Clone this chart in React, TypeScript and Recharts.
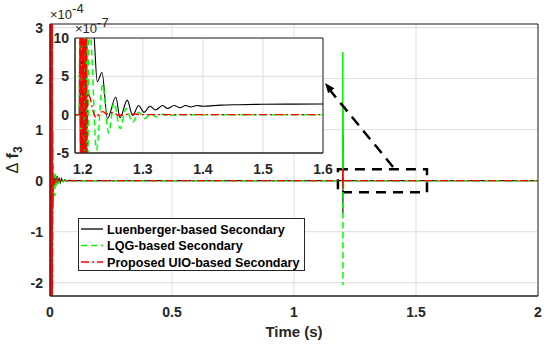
import React from 'react';
import {
  LineChart,
  Line,
  XAxis,
  YAxis,
  CartesianGrid,
  ReferenceArea,
  ReferenceLine,
  ReferenceDot,
  Legend,
  Label,
} from 'recharts';

const FONT = "'Liberation Sans', Arial, Helvetica, sans-serif";
const AXIS_COLOR = '#262626';
const GRID_COLOR = '#dedede';

// ---------- series names ----------
const seriesNames = ['Luenberger-based Secondary', 'LQG-based Secondary', 'Proposed UIO-based Secondary'];

// ---------- main axes (values ×10^-4) ----------
const mainTicksX = [0, 0.5, 1, 1.5, 2];
const mainTicksY = [-2, -1, 0, 1, 2, 3];
const mainDomainX = [0, 2];
const mainDomainY = [-2.26, 3.07];

const luenbergerMainT = [0, 0.001, 0.002, 0.003, 0.004, 0.005, 0.006, 0.007, 0.008, 0.009, 0.01, 0.013, 0.017, 0.021, 0.025, 0.029, 0.033, 0.037, 0.042, 0.047, 0.053, 0.06, 0.07, 0.08, 0.1, 1.1995, 1.2, 1.2004, 1.2008, 1.2012, 1.2016, 1.203, 2];
const luenbergerMainV = [0, 3.5, -2.5, 3.5, -2.5, 3.5, -2.5, 3.5, -2.5, 1.5, -0.8, 0.15, -0.12, 0.12, -0.08, 0.09, -0.06, 0.06, -0.04, 0.04, -0.02, 0.02, -0.01, 0.005, 0, 0, 1.44, -0.64, 0.9, -0.3, 0.3, 0, 0];

const lqgMainT = [0, 0.0015, 0.003, 0.0045, 0.006, 0.0075, 0.009, 0.011, 0.015, 0.019, 0.023, 0.027, 0.031, 0.036, 0.041, 0.05, 0.06, 0.08, 1.1995, 1.2, 1.2006, 1.2012, 1.202, 1.204, 2];
const lqgMainV = [0, 3.5, -2.5, 3.5, -2.5, 3.5, -2.5, 0.3, 0.18, -0.3, 0.12, -0.12, 0.07, -0.05, 0.03, -0.02, 0.01, 0, 0, 2.52, -2.05, 0.6, -0.2, 0, 0];

const uioMainT = [0, 0.0005, 0.001, 0.0015, 0.002, 0.0025, 0.003, 0.0035, 0.004, 0.0045, 0.005, 0.0055, 0.006, 0.0065, 0.007, 0.0075, 0.008, 0.0085, 0.009, 0.0095, 0.01, 0.011, 0.012, 0.014, 0.018, 0.022, 0.027, 0.032, 0.04, 0.05, 1.1995, 1.2, 1.2005, 1.201, 1.203, 2];
const uioMainV = [0, 3.5, -2.5, 3.5, -2.5, 3.5, -2.5, 3.5, -2.5, 3.5, -2.5, 3.5, -2.5, 3.5, -2.5, 3.5, -2.5, 3.5, -2.5, 3.5, -2.5, 1.0, -0.5, 0.1, -0.08, 0.06, -0.04, 0.03, -0.01, 0, 0, 0.25, -0.15, 0.05, 0, 0];

// ---------- inset axes (values ×10^-7) ----------
const insetTicksX = [1.2, 1.3, 1.4, 1.5, 1.6];
const insetTicksY = [-5, 0, 5, 10];
const insetDomainX = [1.187, 1.6];
const insetDomainY = [-5, 10];

const luenbergerInsetT = [1.187, 1.194, 1.195, 1.196, 1.197, 1.198, 1.199, 1.2, 1.201, 1.202, 1.203, 1.204, 1.205, 1.206, 1.207, 1.212, 1.219, 1.224, 1.232, 1.241, 1.255, 1.262, 1.274, 1.283, 1.293, 1.302, 1.312, 1.321, 1.333, 1.341, 1.352, 1.362, 1.371, 1.38, 1.39, 1.4, 1.43, 1.46, 1.5, 1.55, 1.6];
const luenbergerInsetV = [0, 0, 12, -7, 12, -7, 12, -7, 12, -7, 12, -7, 12, -7, 12, 16, 10, 4.3, 5.5, -0.5, 2.3, -0.4, 1.9, -0.1, 1.2, 0.3, 1.1, 0.6, 1.2, 0.8, 1.2, 0.9, 1.2, 1.0, 1.2, 1.1, 1.25, 1.3, 1.35, 1.38, 1.4];

const lqgInsetT = [1.187, 1.194, 1.195, 1.1965, 1.198, 1.1995, 1.201, 1.2025, 1.204, 1.2055, 1.207, 1.2085, 1.21, 1.2135, 1.2228, 1.233, 1.243, 1.252, 1.262, 1.272, 1.283, 1.293, 1.303, 1.313, 1.323, 1.333, 1.343, 1.36, 1.6];
const lqgInsetV = [0, 0, 12, -7, 12, -7, 12, -7, 12, -7, 12, -7, 12, 10, -4.6, 3.9, -2.4, 1.6, -1.8, 0.8, -1.0, 0.3, -0.5, 0.1, -0.3, 0.05, -0.15, 0, 0];

const uioInsetT = [1.187, 1.194, 1.195, 1.1955, 1.1965, 1.1975, 1.1985, 1.1995, 1.2005, 1.2015, 1.2025, 1.2035, 1.2045, 1.2055, 1.2065, 1.208, 1.212, 1.217, 1.222, 1.228, 1.233, 1.24, 1.25, 1.26, 1.28, 1.3, 1.6];
const uioInsetV = [0, 0, 0, 12, -7, 12, -7, 12, -7, 12, -7, 12, -7, 12, -7, 2.8, 2.2, 0.5, -0.4, 0.2, 0.4, 0.1, 0.3, -0.1, 0.1, 0, 0];

// ---------- zoom annotation (main-axis units) ----------
const zoomBoxX = [1.18, 1.545];
const zoomBoxY = [-0.225, 0.225];
const arrowStart = { x: 1.406, y: 0.268 };
const arrowEnd = { x: 1.147, y: 1.776 };
const arrowTip = { x: 1.127, y: 1.915 };

const zip = (t: number[], v: number[]) => t.map((x, i) => ({ t: x, v: v[i] }));

const styles = [
  { stroke: '#000000', dash: undefined as string | undefined, width: 1.1 },
  { stroke: '#00ff00', dash: '6 4', width: 1.5 },
  { stroke: '#ff0000', dash: '8 3 2 3', width: 1.4 },
];

const tickStyle = { fill: AXIS_COLOR, fontSize: 14, fontWeight: 700, fontFamily: FONT };

const renderLegend = () => (
  <svg width={227} height={53} style={{ display: 'block' }}>
    <rect x={0.5} y={0.5} width={226} height={52} fill="#ffffff" stroke={AXIS_COLOR} strokeWidth={1} />
    {seriesNames.map((name, i) => {
      const cy = 11 + i * 16.5;
      return (
        <g key={name}>
          <line x1={3} x2={25} y1={cy} y2={cy} stroke={styles[i].stroke} strokeWidth={styles[i].width + 0.2} strokeDasharray={styles[i].dash} />
          <text x={29} y={cy + 4.5} fontSize={12.6} fontWeight={700} fontFamily={FONT} fill="#000">
            {name}
          </text>
        </g>
      );
    })}
  </svg>
);

const ArrowHead = (props: any) => {
  const { cx, cy } = props;
  if (cx == null || cy == null) return null;
  const dx = -0.63, dy = -0.78;
  const len = 10, hw = 4;
  const bx = cx - dx * len, by = cy - dy * len;
  const px = -dy, py = dx;
  const pts = `${cx},${cy} ${bx + px * hw},${by + py * hw} ${bx - px * hw},${by - py * hw}`;
  return <polygon points={pts} fill="#000" />;
};

export default function App() {
  return (
    <div style={{ position: 'absolute', left: 0, top: 0, width: 550, height: 346, background: '#fff' }}>
      {/* main chart */}
      <div style={{ position: 'absolute', left: 0, top: 0 }}>
        <LineChart width={550} height={346} margin={{ top: 24, right: 12, bottom: 0, left: 0 }}>
          <CartesianGrid stroke={GRID_COLOR} strokeWidth={1} />
          <XAxis
            type="number"
            dataKey="t"
            domain={mainDomainX}
            ticks={mainTicksX}
            allowDataOverflow
            height={50}
            tickLine={false}
            tickSize={0}
            tickMargin={11}
            stroke={AXIS_COLOR}
            tick={tickStyle}
            interval={0}
          >
            <Label
              content={(p: any) => {
                const vb = p.viewBox || { x: 50, y: 296, width: 488 };
                return (
                  <text x={vb.x + vb.width / 2} y={vb.y + 41} textAnchor="middle" fontSize={15} fontWeight={700} fontFamily={FONT} fill={AXIS_COLOR}>
                    Time (s)
                  </text>
                );
              }}
            />
          </XAxis>
          <YAxis
            type="number"
            domain={mainDomainY}
            ticks={mainTicksY}
            allowDataOverflow
            width={50}
            tickLine={false}
            tickSize={0}
            tickMargin={7}
            stroke={AXIS_COLOR}
            tick={tickStyle}
            interval={0}
          >
            <Label
              content={(p: any) => {
                const vb = p.viewBox || { x: 0, y: 24, width: 50, height: 272 };
                const cx = 18;
                const cy = vb.y + vb.height / 2;
                return (
                  <g>
                    <text x={cx} y={cy} transform={`rotate(-90 ${cx} ${cy})`} textAnchor="middle" fontSize={16} fontFamily={FONT} fill={AXIS_COLOR}>
                      Δ<tspan fontWeight={700}> f</tspan>
                      <tspan fontWeight={700} fontSize={12} dy={4}>3</tspan>
                    </text>
                    <text x={vb.x + vb.width} y={vb.y - 5} fontSize={13} fontFamily={FONT} fill={AXIS_COLOR}>
                      ×10<tspan dy={-6}>-4</tspan>
                    </text>
                  </g>
                );
              }}
            />
          </YAxis>
          <Line data={zip(luenbergerMainT, luenbergerMainV)} dataKey="v" name={seriesNames[0]} stroke={styles[0].stroke} strokeWidth={styles[0].width} dot={false} isAnimationActive={false} />
          <Line data={zip(lqgMainT, lqgMainV)} dataKey="v" name={seriesNames[1]} stroke={styles[1].stroke} strokeWidth={styles[1].width} strokeDasharray={styles[1].dash} dot={false} isAnimationActive={false} />
          <Line data={zip(uioMainT, uioMainV)} dataKey="v" name={seriesNames[2]} stroke={styles[2].stroke} strokeWidth={styles[2].width} strokeDasharray={styles[2].dash} dot={false} isAnimationActive={false} />
          <ReferenceArea x1={mainDomainX[0]} x2={mainDomainX[1]} y1={mainDomainY[0]} y2={mainDomainY[1]} fill="none" fillOpacity={0} stroke={AXIS_COLOR} strokeWidth={1} ifOverflow="visible" />
          <ReferenceArea x1={zoomBoxX[0]} x2={zoomBoxX[1]} y1={zoomBoxY[0]} y2={zoomBoxY[1]} fill="none" fillOpacity={0} stroke="#000" strokeWidth={2.5} strokeDasharray="10 7" ifOverflow="visible" />
          <ReferenceLine segment={[arrowStart, arrowEnd]} stroke="#000" strokeWidth={2.5} strokeDasharray="11 7" ifOverflow="visible" />
          <ReferenceDot x={arrowTip.x} y={arrowTip.y} shape={ArrowHead} ifOverflow="visible" />
          <Legend layout="vertical" align="center" verticalAlign="middle" content={renderLegend} wrapperStyle={{ position: 'absolute', left: 78, top: 218, width: 227, height: 53 }} />
        </LineChart>
      </div>

      {/* inset chart */}
      <div style={{ position: 'absolute', left: 0, top: 0 }}>
        <LineChart width={550} height={346} margin={{ top: 38, right: 227, bottom: 173, left: 0 }}>
          <CartesianGrid stroke={GRID_COLOR} strokeWidth={1} fill="#ffffff" fillOpacity={1} />
          <XAxis
            type="number"
            dataKey="t"
            domain={insetDomainX}
            ticks={insetTicksX}
            allowDataOverflow
            height={20}
            tickLine={false}
            tickSize={0}
            tickMargin={11}
            stroke={AXIS_COLOR}
            tick={tickStyle}
            interval={0}
          />
          <YAxis
            type="number"
            domain={insetDomainY}
            ticks={insetTicksY}
            allowDataOverflow
            width={75}
            tickLine={false}
            tickSize={0}
            tickMargin={6}
            stroke={AXIS_COLOR}
            tick={tickStyle}
            interval={0}
          >
            <Label
              content={(p: any) => {
                const vb = p.viewBox || { x: 0, y: 38, width: 75 };
                return (
                  <text x={vb.x + vb.width} y={vb.y - 5} fontSize={13} fontFamily={FONT} fill={AXIS_COLOR}>
                    ×10<tspan dy={-6}>-7</tspan>
                  </text>
                );
              }}
            />
          </YAxis>
          <Line type="monotone" data={zip(luenbergerInsetT, luenbergerInsetV)} dataKey="v" name={seriesNames[0]} stroke={styles[0].stroke} strokeWidth={styles[0].width} dot={false} isAnimationActive={false} />
          <Line type="monotone" data={zip(lqgInsetT, lqgInsetV)} dataKey="v" name={seriesNames[1]} stroke={styles[1].stroke} strokeWidth={styles[1].width} strokeDasharray={styles[1].dash} dot={false} isAnimationActive={false} />
          <Line type="monotone" data={zip(uioInsetT, uioInsetV)} dataKey="v" name={seriesNames[2]} stroke={styles[2].stroke} strokeWidth={styles[2].width} strokeDasharray={styles[2].dash} dot={false} isAnimationActive={false} />
          <ReferenceArea x1={insetDomainX[0]} x2={insetDomainX[1]} y1={insetDomainY[0]} y2={insetDomainY[1]} fill="none" fillOpacity={0} stroke={AXIS_COLOR} strokeWidth={1} ifOverflow="visible" />
        </LineChart>
      </div>
    </div>
  );
}
